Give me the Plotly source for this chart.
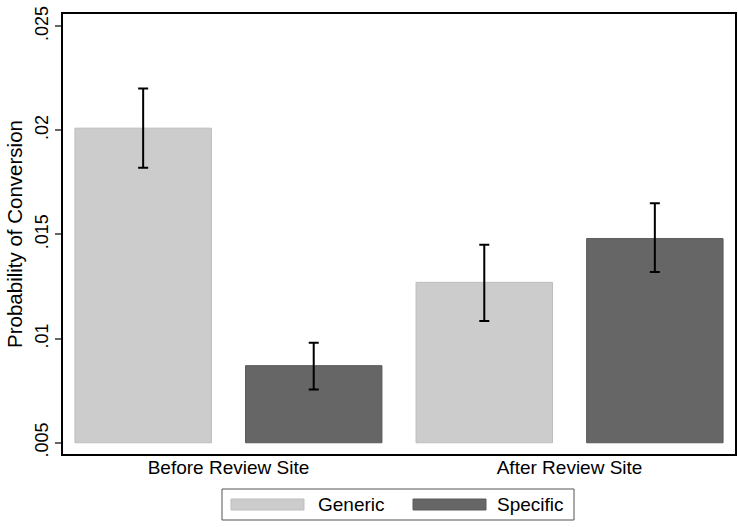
import plotly.graph_objects as go

# ---- data ----
groups = ["Before Review Site", "After Review Site"]
series_names = ["Generic", "Specific"]
generic = [0.0201, 0.0127]
specific = [0.0087, 0.0148]
generic_lo = [0.0182, 0.01085]
generic_hi = [0.0220, 0.0145]
specific_lo = [0.00756, 0.0132]
specific_hi = [0.0098, 0.0165]
ytick_vals = [0.005, 0.01, 0.015, 0.02, 0.025]
ytick_text = [".005", ".01", ".015", ".02", ".025"]
bar_base = 0.005

colors = ["#cccccc", "#666666"]
line_colors = ["#bdbdbd", "#5a5a5a"]
FONT = "Liberation Sans, Arial, sans-serif"

values = [generic, specific]
los = [generic_lo, specific_lo]
his = [generic_hi, specific_hi]
n_series = len(series_names)

fig = go.Figure()
for j, name in enumerate(series_names):
    xs = [n_series * i + j + 1 for i in range(len(groups))]
    v = values[j]
    fig.add_trace(go.Bar(
        x=xs, y=[val - bar_base for val in v], base=bar_base,
        width=0.8, name=name, showlegend=False,
        marker=dict(color=colors[j], line=dict(color=line_colors[j], width=1)),
    ))
for j, name in enumerate(series_names):
    xs = [n_series * i + j + 1 for i in range(len(groups))]
    v = values[j]
    fig.add_trace(go.Scatter(
        x=xs, y=v, mode="markers", marker=dict(size=0.1, opacity=0),
        showlegend=False, hoverinfo="skip",
        error_y=dict(type="data", symmetric=False,
                     array=[h - c for h, c in zip(his[j], v)],
                     arrayminus=[c - l for c, l in zip(v, los[j])],
                     color="black", thickness=2, width=5),
    ))

group_centers = [n_series * i + (n_series + 1) / 2 for i in range(len(groups))]

L, R, T, B = 63, 3, 14, 73
W, H = 738, 527
pw, ph = W - L - R, H - T - B

def px(x):
    return (x - L) / pw

def py(y):
    return (H - B - y) / ph

shapes = [dict(type="rect", xref="paper", yref="paper",
               x0=px(222), x1=px(574), y0=py(489), y1=py(520),
               line=dict(color="#555555", width=1), fillcolor="white")]
annotations = []
sw_x = [231, 413]
tx_x = [316, 495]
for j, name in enumerate(series_names):
    shapes.append(dict(type="rect", xref="paper", yref="paper",
                       x0=px(sw_x[j]), x1=px(sw_x[j] + 73), y0=py(499), y1=py(510),
                       fillcolor=colors[j], line=dict(color=line_colors[j], width=1)))
    annotations.append(dict(xref="paper", yref="paper", x=px(tx_x[j]), y=py(504.5),
                            text=name, showarrow=False, xanchor="left", yanchor="middle",
                            font=dict(size=19, color="black", family=FONT)))

fig.update_layout(
    width=W, height=H,
    margin=dict(l=L, r=R, t=T, b=B, autoexpand=False),
    paper_bgcolor="white", plot_bgcolor="white",
    font=dict(family=FONT, color="black"),
    shapes=shapes, annotations=annotations,
    xaxis=dict(range=[0.53, 4.47], tickvals=group_centers, ticktext=groups,
               ticks="", showgrid=False, zeroline=False, automargin=False,
               ticklabelstandoff=-5,
               showline=True, mirror=True, linecolor="black", linewidth=1.5,
               tickfont=dict(size=19, family=FONT, color="black")),
    yaxis=dict(range=[0.00446, 0.02558], tickvals=ytick_vals, ticktext=ytick_text,
               ticks="outside", ticklen=6, tickwidth=1.5, tickcolor="#666666",
               tickangle=-90, showgrid=False, zeroline=False, automargin=False,
               showline=True, mirror=True, linecolor="black", linewidth=1.5,
               tickfont=dict(size=18, family=FONT, color="black"),
               title=dict(text="Probability of Conversion", standoff=4,
                          font=dict(size=20.5, family=FONT, color="black"))),
)

fig.write_html("out.html", config={"displayModeBar": False},
               post_script="document.body.style.margin='0';")
